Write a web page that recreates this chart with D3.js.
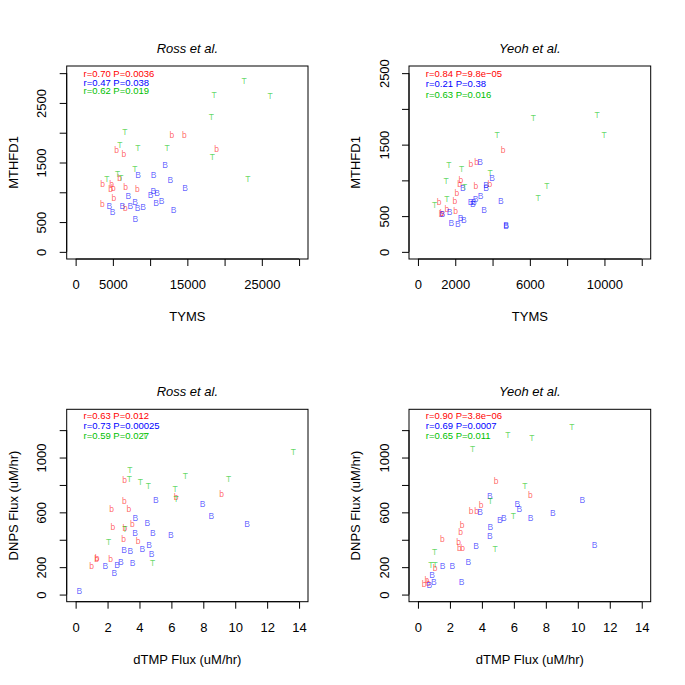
<!DOCTYPE html>
<html><head><meta charset="utf-8">
<script src="https://cdn.jsdelivr.net/npm/d3@7"></script>
<style>body{margin:0;background:#fff}svg{display:block}text{font-family:"Liberation Sans",Arial,Helvetica,sans-serif}</style>
</head><body>
<svg id="chart" width="685" height="685"></svg>
<script>
// ---------- DATA ----------
const panelTitles = ["Ross et al.", "Yeoh et al.", "Ross et al.", "Yeoh et al."];
const xAxisTitles = ["TYMS", "TYMS", "dTMP Flux (uM/hr)", "dTMP Flux (uM/hr)"];
const yAxisTitles = ["MTHFD1", "MTHFD1", "DNPS Flux (uM/hr)", "DNPS Flux (uM/hr)"];
const seriesSymbols = ["b", "B", "T"];

const statsRossTyms = ["r=0.70 P=0.0036", "r=0.47 P=0.038", "r=0.62 P=0.019"];
const statsYeohTyms = ["r=0.84 P=9.8e\u221205", "r=0.21 P=0.38", "r=0.63 P=0.016"];
const statsRossFlux = ["r=0.63 P=0.012", "r=0.73 P=0.00025", "r=0.59 P=0.027"];
const statsYeohFlux = ["r=0.90 P=3.8e\u221206", "r=0.69 P=0.0007", "r=0.65 P=0.011"];

// Ticks
const ticksTymsRossX = [0, 5000, 10000, 15000, 20000, 25000, 30000];
const labelsTymsRossX = ["0", "5000", "", "15000", "", "25000", ""];
const ticksMthfdRossY = [0, 500, 1000, 1500, 2000, 2500, 3000];
const labelsMthfdRossY = ["0", "500", "", "1500", "", "2500", ""];
const ticksTymsYeohX = [0, 2000, 4000, 6000, 8000, 10000, 12000];
const labelsTymsYeohX = ["0", "2000", "", "6000", "", "10000", ""];
const ticksMthfdYeohY = [0, 500, 1000, 1500, 2000, 2500];
const labelsMthfdYeohY = ["0", "500", "", "1500", "", "2500"];
const ticksFluxX = [0, 2, 4, 6, 8, 10, 12, 14];
const labelsFluxX = ["0", "2", "4", "6", "8", "10", "12", "14"];
const ticksFluxY = [0, 200, 400, 600, 800, 1000, 1200];
const labelsFluxY = ["0", "200", "", "600", "", "1000", ""];

// Ross TYMS vs MTHFD1
const rossTymsRedX = [12937, 14590, 18943, 5508, 6489, 5911, 3627, 4836, 5052, 4702, 6717, 8276, 5146, 3574, 6664];
const rossTymsRedY = [1968, 1968, 1727, 1715, 1648, 1239, 1133, 1133, 1076, 1054, 1093, 1054, 903, 802, 735];
const rossTymsBlueX = [11997, 8370, 10479, 12710, 14685, 10426, 10923, 10076, 7067, 7967, 11554, 10788, 4514, 6261, 7336, 8330, 9042, 4971, 13166, 8007];
const rossTymsBlueY = [1453, 1295, 1295, 1206, 1071, 1016, 992, 953, 932, 841, 848, 814, 774, 774, 774, 740, 752, 668, 696, 550];
const rossTymsGreenX = [22612, 26104, 18580, 18220, 6624, 5952, 8370, 12266, 18355, 7967, 5643, 4205, 6086, 23108];
const rossTymsGreenY = [2870, 2618, 2630, 2270, 2008, 1794, 1744, 1744, 1587, 1391, 1301, 1222, 1239, 1222];

// Yeoh TYMS vs MTHFD1
const yeohTymsRedX = [4570, 2839, 3139, 2304, 2229, 3107, 3857, 2089, 1141, 1982, 1554, 2014, 1248, 1300];
const yeohTymsRedY = [1429, 1233, 1252, 1000, 944, 916, 944, 824, 698, 707, 600, 567, 535, 545];
const yeohTymsBlueX = [3337, 3980, 2411, 3659, 3659, 3354, 3086, 2818, 3000, 2946, 4446, 3552, 1693, 1302, 2282, 2464, 1784, 2143, 4730, 4730];
const yeohTymsBlueY = [1252, 1028, 894, 936, 898, 786, 740, 702, 693, 665, 712, 591, 563, 530, 470, 442, 405, 395, 381, 358];
const yeohTymsGreenX = [9605, 6193, 9980, 4248, 1661, 2336, 3873, 1516, 2496, 6911, 6445, 1554, 889];
const yeohTymsGreenY = [1918, 1876, 1638, 1638, 1209, 1159, 1107, 992, 912, 926, 754, 740, 651];

// Ross dTMP flux vs DNPS flux
const rossFluxRedX = [3.07, 9.15, 6.29, 3.05, 2.26, 3.34, 3.55, 2.34, 3.09, 3.01, 3.92, 1.35, 1.32, 2.19, 1.00];
const rossFluxRedY = [833, 736, 715, 683, 628, 623, 514, 490, 483, 403, 391, 266, 259, 261, 210];
const rossFluxBlueX = [5.03, 7.96, 8.50, 10.74, 3.74, 4.49, 3.72, 4.83, 5.97, 4.60, 3.03, 3.42, 4.18, 4.76, 2.84, 2.59, 3.57, 1.86, 2.42, 0.23];
const rossFluxBlueY = [693, 664, 570, 512, 560, 519, 447, 447, 435, 360, 324, 319, 333, 295, 237, 219, 232, 205, 159, 27];
const rossFluxGreenX = [13.64, 3.40, 3.36, 6.87, 9.59, 4.05, 4.55, 6.24, 6.29, 4.34, 3.09, 2.07, 4.83];
const rossFluxGreenY = [1043, 908, 840, 862, 840, 818, 792, 773, 700, 1159, 480, 384, 230];

// Yeoh dTMP flux vs DNPS flux
const yeohFluxRedX = [4.89, 7.04, 3.95, 3.32, 3.67, 2.76, 2.67, 1.52, 2.55, 2.59, 2.80, 1.07, 0.56, 0.39, 0.65];
const yeohFluxRedY = [826, 729, 657, 613, 613, 505, 458, 403, 386, 338, 343, 193, 109, 77, 85];
const yeohFluxBlueX = [10.28, 4.49, 6.21, 6.35, 8.44, 3.89, 7.04, 5.37, 5.12, 4.53, 4.49, 11.05, 3.64, 3.15, 1.54, 2.15, 0.88, 1.00, 0.71, 2.73];
const yeohFluxBlueY = [688, 717, 659, 625, 596, 606, 560, 558, 543, 492, 427, 360, 355, 239, 212, 212, 140, 89, 70, 92];
const yeohFluxGreenX = [9.63, 5.62, 7.12, 3.42, 6.68, 4.53, 5.97, 4.83, 1.04, 0.81, 1.07];
const yeohFluxGreenY = [1226, 1161, 1146, 1062, 794, 683, 577, 331, 314, 217, 217];

// ---------- LAYOUT ----------
const legendColors = ["#ff0000", "#0000ff", "#00c000"];
const pointColors = ["#ff0000", "#0000ff", "#00c000"];

const panels = [
  { box: [66.7, 66, 308, 259], xDom: [-1200, 31200], yDom: [-120, 3120],
    xt: ticksTymsRossX, xl: labelsTymsRossX, yt: ticksMthfdRossY, yl: labelsMthfdRossY,
    stats: statsRossTyms, legY: [7.3, 16, 24.7],
    series: [[rossTymsRedX, rossTymsRedY], [rossTymsBlueX, rossTymsBlueY], [rossTymsGreenX, rossTymsGreenY]] },
  { box: [409, 66, 650.7, 259], xDom: [-480, 12480], yDom: [-100, 2600],
    xt: ticksTymsYeohX, xl: labelsTymsYeohX, yt: ticksMthfdYeohY, yl: labelsMthfdYeohY,
    stats: statsYeohTyms, legY: [7.3, 17.6, 28],
    series: [[yeohTymsRedX, yeohTymsRedY], [yeohTymsBlueX, yeohTymsBlueY], [yeohTymsGreenX, yeohTymsGreenY]] },
  { box: [66.7, 409.3, 308, 601.7], xDom: [-0.56, 14.56], yDom: [-52, 1352],
    xt: ticksFluxX, xl: labelsFluxX, yt: ticksFluxY, yl: labelsFluxY,
    stats: statsRossFlux, legY: [5.7, 16, 26],
    series: [[rossFluxRedX, rossFluxRedY], [rossFluxBlueX, rossFluxBlueY], [rossFluxGreenX, rossFluxGreenY]] },
  { box: [409, 409.3, 650.7, 601.7], xDom: [-0.56, 14.56], yDom: [-52, 1352],
    xt: ticksFluxX, xl: labelsFluxX, yt: ticksFluxY, yl: labelsFluxY,
    stats: statsYeohFlux, legY: [6, 16.4, 26.4],
    series: [[yeohFluxRedX, yeohFluxRedY], [yeohFluxBlueX, yeohFluxBlueY], [yeohFluxGreenX, yeohFluxGreenY]] }
];

const svg = d3.select("#chart");

panels.forEach((p, i) => {
  const [x0, y0, x1, y1] = p.box;
  const x = d3.scaleLinear().domain(p.xDom).range([x0, x1]);
  const y = d3.scaleLinear().domain(p.yDom).range([y1, y0]);
  const g = svg.append("g");

  // X axis
  const xa = g.append("g").attr("transform", `translate(0,${y1})`)
    .call(d3.axisBottom(x).tickValues(p.xt).tickSize(7).tickPadding(10)
      .tickFormat((d, k) => p.xl[k]));
  xa.select(".domain").attr("d", `M${x(p.xt[0])},0H${x(p.xt[p.xt.length - 1])}`);
  xa.selectAll("text").attr("font-size", 13).attr("font-family", null).attr("fill", "#000")
    .attr("dy", null).attr("y", 25.5).attr("dominant-baseline", "central");
  xa.selectAll("line,path").attr("stroke", "#000").attr("stroke-width", 1);

  // Y axis
  const ya = g.append("g").attr("transform", `translate(${x0},0)`)
    .call(d3.axisLeft(y).tickValues(p.yt).tickSize(7).tickFormat((d, k) => p.yl[k]));
  ya.select(".domain").attr("d", `M0,${y(p.yt[0])}V${y(p.yt[p.yt.length - 1])}`);
  ya.selectAll("text").attr("font-size", 13).attr("font-family", null).attr("fill", "#000")
    .attr("x", null).attr("dy", null)
    .attr("transform", "translate(-25,0) rotate(-90)")
    .attr("text-anchor", "middle").attr("dominant-baseline", "central");
  ya.selectAll("line,path").attr("stroke", "#000").attr("stroke-width", 1);

  // Box
  g.append("rect").attr("x", x0).attr("y", y0).attr("width", x1 - x0).attr("height", y1 - y0)
    .attr("fill", "none").attr("stroke", "#000").attr("stroke-width", 1);

  // Title
  g.append("text").attr("x", (x0 + x1) / 2).attr("y", y0 - 17.7)
    .attr("text-anchor", "middle").attr("dominant-baseline", "central")
    .attr("font-size", 13).attr("font-style", "italic").text(panelTitles[i]);

  // Axis titles
  g.append("text").attr("x", (x0 + x1) / 2).attr("y", y1 + 57.7)
    .attr("text-anchor", "middle").attr("dominant-baseline", "central")
    .attr("font-size", 13).text(xAxisTitles[i]);
  g.append("text").attr("transform", `translate(${x0 - 53.4},${(y0 + y1) / 2}) rotate(-90)`)
    .attr("text-anchor", "middle").attr("dominant-baseline", "central")
    .attr("font-size", 13).text(yAxisTitles[i]);

  // Points
  p.series.forEach((s, si) => {
    const pts = s[0].map((v, k) => [v, s[1][k]]);
    g.append("g").selectAll("text").data(pts).join("text")
      .attr("x", d => x(d[0])).attr("y", d => y(d[1]))
      .attr("text-anchor", "middle").attr("dominant-baseline", "central")
      .attr("font-size", 8.5).attr("fill", pointColors[si]).attr("fill-opacity", 0.62)
      .text(seriesSymbols[si]);
  });

  // Legend stats
  g.append("g").selectAll("text").data(p.stats).join("text")
    .attr("x", x0 + 16.8).attr("y", (d, k) => y0 + p.legY[k])
    .attr("dominant-baseline", "central").attr("font-size", 9.5)
    .attr("fill", (d, k) => legendColors[k]).text(d => d);
});
</script>
</body></html>
